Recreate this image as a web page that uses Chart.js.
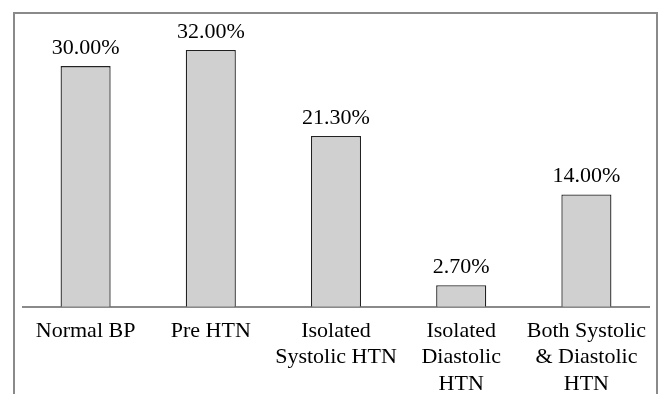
<!DOCTYPE html>
<html>
<head>
<meta charset="utf-8">
<script src="https://cdn.jsdelivr.net/npm/chart.js@4.4.1/dist/chart.umd.min.js"></script>
<style>
  html, body { margin: 0; padding: 0; background: #fff; overflow: hidden; }
  #wrap { position: relative; width: 665px; height: 420px; }
  #frame { position: absolute; left: 13px; top: 12px; width: 645px; height: 420px;
           border: 2px solid #8a8a8a; box-sizing: border-box; }
  canvas { position: absolute; left: 0; top: 0; }
</style>
</head>
<body>
<div id="wrap">
  <div id="frame"></div>
  <canvas id="c" width="665" height="420"></canvas>
</div>
<script>
// Blood pressure categories and the share of participants in each (%)
const categories = [
  ["Normal BP"],
  ["Pre HTN"],
  ["Isolated", "Systolic HTN"],
  ["Isolated", "Diastolic", "HTN"],
  ["Both Systolic", "& Diastolic", "HTN"]
];
const percentages = [30.0, 32.0, 21.3, 2.7, 14.0];

const serif = "'Liberation Serif', 'Times New Roman', serif";

// Writes the percentage above each bar
const valueLabels = {
  id: 'valueLabels',
  afterDatasetsDraw(chart) {
    const ctx = chart.ctx;
    const meta = chart.getDatasetMeta(0);
    ctx.save();
    ctx.font = "22px " + serif;
    ctx.fillStyle = "#000";
    ctx.textAlign = "center";
    ctx.textBaseline = "alphabetic";
    meta.data.forEach((bar, i) => {
      ctx.fillText(percentages[i].toFixed(2) + "%", bar.x, bar.y - 12);
    });
    ctx.restore();
  }
};

new Chart(document.getElementById('c'), {
  type: 'bar',
  data: {
    labels: categories,
    datasets: [{
      data: percentages,
      backgroundColor: '#d0d0d0',
      borderColor: '#222',
      borderWidth: 1.3,
      barPercentage: 0.5,
      categoryPercentage: 0.8
    }]
  },
  options: {
    responsive: false,
    animation: false,
    devicePixelRatio: 1,
    layout: { padding: { left: 23, right: 16, top: 26, bottom: 12 } },
    plugins: { legend: { display: false }, tooltip: { enabled: false } },
    scales: {
      x: {
        grid: { display: false, drawTicks: false },
        border: { display: true, color: '#8a8a8a', width: 2 },
        ticks: {
          color: '#000',
          font: { family: serif, size: 22, lineHeight: 1.2 },
          padding: 11,
          maxRotation: 0,
          autoSkip: false
        }
      },
      y: {
        display: false,
        min: 0,
        max: 35
      }
    }
  },
  plugins: [valueLabels]
});
</script>
</body>
</html>
